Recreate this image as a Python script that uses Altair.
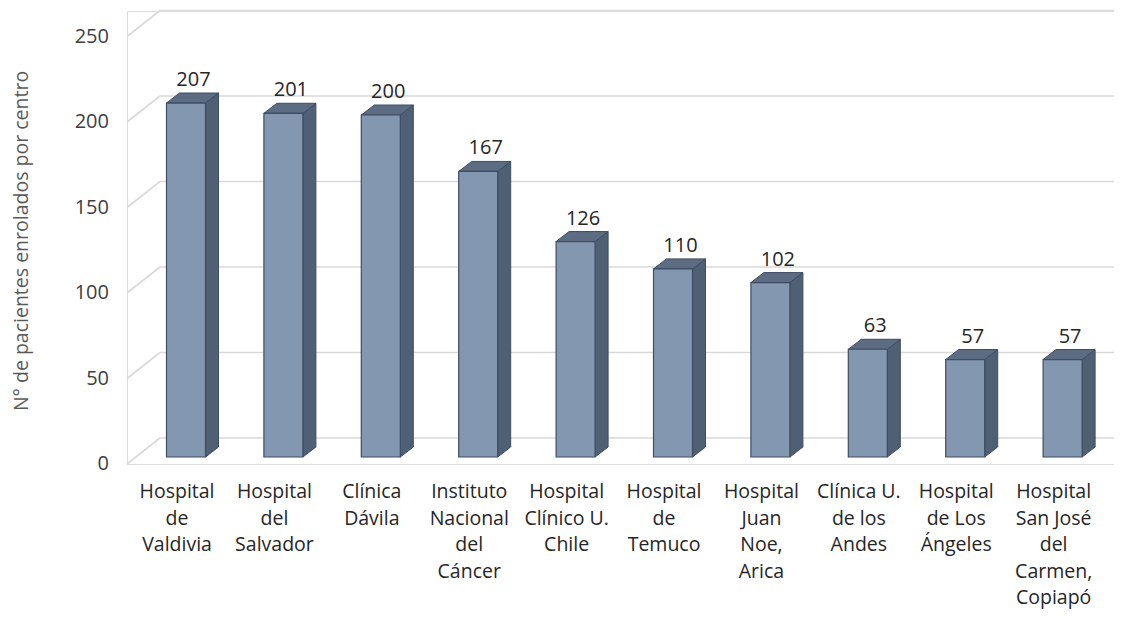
import altair as alt
import pandas as pd

# ---- data ----
centros = [
    "Hospital\nde\nValdivia",
    "Hospital\ndel\nSalvador",
    "Clínica\nDávila",
    "Instituto\nNacional\ndel\nCáncer",
    "Hospital\nClínico U.\nChile",
    "Hospital\nde\nTemuco",
    "Hospital\nJuan\nNoe,\nArica",
    "Clínica U.\nde los\nAndes",
    "Hospital\nde Los\nÁngeles",
    "Hospital\nSan José\ndel\nCarmen,\nCopiapó",
]
pacientes = [207, 201, 200, 167, 126, 110, 102, 63, 57, 57]
ticks = [0, 50, 100, 150, 200, 250]
y_title = "N° de pacientes enrolados por centro"

# ---- geometry (pseudo-3D oblique projection) ----
W, H = 987, 453
PX_CAT = 97.4          # pixels per category
PX_VAL = 1.71          # pixels per unit of value
XD = [-59 / PX_CAT, (W - 59) / PX_CAT]
YD = [-7 / PX_VAL, (H - 7) / PX_VAL]
HALF = 19.5 / PX_CAT    # half width of bar front
DX = 13 / PX_CAT        # bar depth (x)
DY = 10 / PX_VAL        # bar depth (y)
BACK_X = -26 / PX_CAT   # left end of back-wall gridlines
BACK_DY = 19 / PX_VAL   # bar front plane -> back wall
FRONT_DY = -7 / PX_VAL  # bar front plane -> front edge

xs = alt.Scale(domain=XD, nice=False, zero=False)
ys = alt.Scale(domain=YD, nice=False, zero=False)

FRONT = "#8497B0"
SIDE = "#4F5F74"
TOP = "#5C6C82"
EDGE = "#3E4D62"
GRID = "#D9D9D9"
FONT = "Open Sans"

# bars
bars = pd.DataFrame({"i": range(len(pacientes)), "v": pacientes,
                     "name": [c.replace("\n", " ") for c in centros]})
bars["xl"] = bars["i"] - HALF
bars["xr"] = bars["i"] + HALF
bars["zero"] = 0
bars["lx"] = bars["i"] + DX / 2 + 0.01
bars["ly"] = bars["v"] + DY

side_rows, top_rows = [], []
for i, v in enumerate(pacientes):
    side_rows.append({"k": i, "x": i + HALF, "y": v, "y2": 0})
    side_rows.append({"k": i, "x": i + HALF + DX, "y": v + DY, "y2": DY})
    top_rows.append({"k": i, "y": v, "x": i - HALF, "x2": i + HALF})
    top_rows.append({"k": i, "y": v + DY, "x": i - HALF + DX, "x2": i + HALF + DX})
side_df = pd.DataFrame(side_rows)
top_df = pd.DataFrame(top_rows)

# gridlines: diagonal from front edge to back wall, then along back wall
grid_rows = []
for t in ticks:
    grid_rows.append({"x": XD[0], "y": t + FRONT_DY, "x2": BACK_X, "y2": t + BACK_DY})
    grid_rows.append({"x": BACK_X, "y": t + BACK_DY, "x2": XD[1], "y2": t + BACK_DY})
grid_df = pd.DataFrame(grid_rows)

tick_df = pd.DataFrame({"t": ticks, "y": [t + FRONT_DY for t in ticks], "x": [XD[0]] * len(ticks)})

grid = alt.Chart(grid_df).mark_rule(color=GRID, strokeWidth=1.6).encode(
    x=alt.X("x:Q", scale=xs, axis=None),
    x2="x2:Q",
    y=alt.Y("y:Q", scale=ys, axis=None),
    y2="y2:Q",
)

tick_labels = alt.Chart(tick_df).mark_text(
    align="right", baseline="middle", dx=-18, font=FONT, fontSize=20, color="#404040"
).encode(
    x=alt.X("x:Q", scale=xs, axis=None),
    y=alt.Y("y:Q", scale=ys, axis=None),
    text="t:Q",
)

side = alt.Chart(side_df).mark_area(fill=SIDE, stroke=EDGE, strokeWidth=1, opacity=1).encode(
    x=alt.X("x:Q", scale=xs, axis=None),
    y=alt.Y("y:Q", scale=ys, axis=None),
    y2="y2:Q",
    detail="k:N",
)

top = alt.Chart(top_df).mark_area(orient="horizontal", fill=TOP, stroke=EDGE, strokeWidth=1, opacity=1).encode(
    y=alt.Y("y:Q", scale=ys, axis=None),
    x=alt.X("x:Q", scale=xs, axis=None),
    x2="x2:Q",
    detail="k:N",
)

front = alt.Chart(bars).mark_rect(fill=FRONT, stroke=EDGE, strokeWidth=1.2).encode(
    x=alt.X("xl:Q", scale=xs, axis=None),
    x2="xr:Q",
    y=alt.Y("zero:Q", scale=ys, axis=None),
    y2="v:Q",
    tooltip=["name:N", "v:Q"],
)

value_labels = alt.Chart(bars).mark_text(
    baseline="bottom", dy=-3, font=FONT, fontSize=20, color="#262626"
).encode(
    x=alt.X("lx:Q", scale=xs, axis=None),
    y=alt.Y("ly:Q", scale=ys, axis=None),
    text="v:Q",
)

cat_df = pd.DataFrame({"x": [i - 0.092 for i in range(len(centros))], "label": centros})
cat_labels = alt.Chart(cat_df).mark_text(
    baseline="top", align="center", lineBreak="\n", lineHeight=26.5,
    font=FONT, fontSize=19.5, color="#262626"
).encode(
    x=alt.X("x:Q", scale=xs, axis=None),
    y=alt.value(472),
    text="label:N",
)

title_df = pd.DataFrame({"t": [y_title]})
y_title_mark = alt.Chart(title_df).mark_text(
    angle=270, align="center", baseline="middle", font=FONT, fontSize=19.5, color="#595959"
).encode(
    x=alt.value(-105),
    y=alt.value(230),
    text="t:N",
)

chart = alt.layer(
    grid, tick_labels, side, top, front, value_labels, cat_labels, y_title_mark
).properties(
    width=W, height=H,
    autosize=alt.AutoSizeParams(type="none"),
    padding={"left": 119, "top": 3, "right": 0, "bottom": 148},
).configure_view(stroke=None).configure(background="white")

chart.save("out.html", embed_options={"renderer": "svg", "actions": False})
